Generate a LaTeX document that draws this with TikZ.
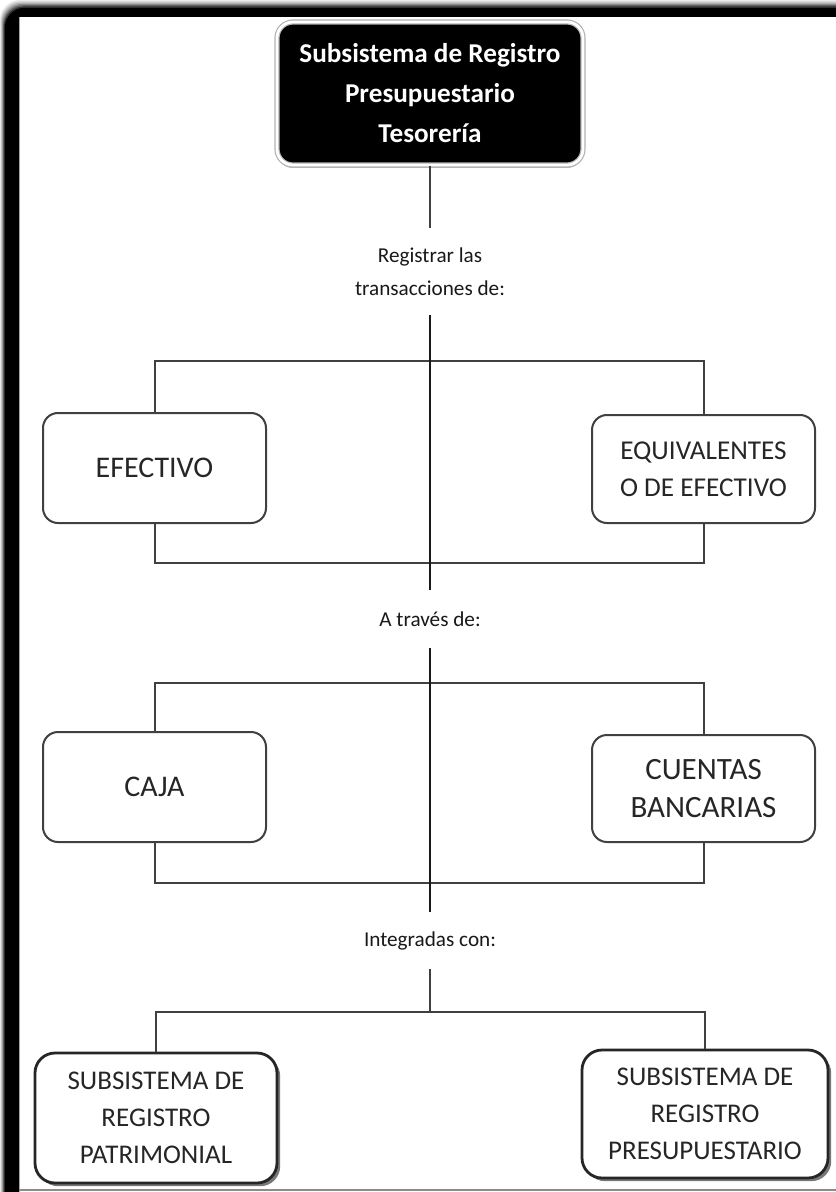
\documentclass[tikz,border=0pt]{standalone}
\usepackage{fontspec}
\setmainfont{Carlito}
\usetikzlibrary{shadows}

\tikzset{
  box/.style={draw=black!75, line width=1pt, rounded corners=7.5pt, fill=white,
    align=center, inner sep=0pt, text=black!85, minimum width=111.5pt,
    font=\fontsize{15}{18.5}\selectfont},
  subbox/.style={box, draw=black!85, line width=1.4pt, rounded corners=10pt,
    font=\fontsize{13.5}{18.5}\selectfont,
    drop shadow={shadow xshift=1.6pt, shadow yshift=-1.6pt, opacity=0.7, fill=black!75}},
  titlebox/.style={fill=black, text=white, draw=black!30, double=white, double distance=1.4pt,
    line width=0.6pt, rounded corners=8pt, align=center, inner sep=0pt,
    minimum width=153pt, minimum height=71.5pt, font=\bfseries\fontsize{13.6}{20}\selectfont,
    drop shadow={shadow xshift=0pt, shadow yshift=-1.5pt, opacity=0.45, fill=black!60}},
  lbl/.style={inner sep=0pt, align=center, text=black!90, font=\fontsize{10.6}{16.5}\selectfont},
  conn/.style={draw=black!75, line width=1pt},
}

\begin{document}
\begin{tikzpicture}[x=0.5pt, y=-0.5pt]
        \useasboundingbox (0,0) rectangle (835,1192);
        \clip (-20,-20) rectangle (860,1220);
        \fill[white] (-20,-20) rectangle (860,1220);

        % Frame.
        \foreach \k/\g in {0/8,1/18,2/30,3/45,4/62,5/80,6/100}
            \fill[black!\g] (\k*0.8,1250) -- (\k*0.8,\k*1.3+20)
                arc[start angle=180, end angle=270, radius=20] -- (950,\k*1.3)
                -- (950,17) -- (19,17) -- (19,1250) -- cycle;
        \draw[black!45, line width=1pt] (19,1190) -- (860,1190);

        % Top.
        \node[titlebox] (top) at (430,93.5) {Subsistema de Registro\\Presupuestario\\Tesorería};
        \node[lbl, minimum height=43.5pt] (reg) at (430,271.5) {Registrar las\\transacciones de:};
        \draw[conn] (top.south) -- (reg.north);

        % Efectivo.
        \coordinate (b1) at (430,361);
        \coordinate (b2) at (430,563);
        \node[box, minimum height=55pt] (efec) at (154.5,468) {EFECTIVO};
        \node[box, minimum height=54pt, font=\fontsize{13.6}{18.5}\selectfont] (equiv) at (703.5,469) {EQUIVALENTES\\O DE EFECTIVO};
        \draw[conn] (efec.north) -- (efec.north |- b1) -- (equiv.north |- b1) -- (equiv.north);
        \draw[conn] (efec.south) -- (efec.south |- b2) -- (equiv.south |- b2) -- (equiv.south);

        \node[lbl, minimum height=29pt] (trav) at (430,619) {A través de:};
        \draw[conn, draw=black!90] (reg.south) -- (trav.north);

        % Caja.
        \coordinate (b3) at (430,683);
        \coordinate (b4) at (430,883);
        \node[box, minimum height=55pt] (caja) at (154.5,787) {CAJA};
        \node[box, minimum height=53.5pt, font=\fontsize{15.5}{19}\selectfont] (ctas) at (703.5,788.5) {CUENTAS\\BANCARIAS};
        \draw[conn] (caja.north) -- (caja.north |- b3) -- (ctas.north |- b3) -- (ctas.north);
        \draw[conn] (caja.south) -- (caja.south |- b4) -- (ctas.south |- b4) -- (ctas.south);

        \node[lbl, minimum height=28.5pt] (integ) at (430,940.5) {Integradas con:};
        \draw[conn, draw=black!90] (trav.south) -- (integ.north);

        % Subsistemas.
        \coordinate (b5) at (430,1012);
        \node[subbox, minimum width=121pt, minimum height=65pt] (patr) at (156,1118) {SUBSISTEMA DE\\REGISTRO\\PATRIMONIAL};
        \node[subbox, minimum width=123pt, minimum height=64pt] (presu) at (705,1114) {SUBSISTEMA DE\\REGISTRO\\PRESUPUESTARIO};
        \draw[conn] (integ.south) -- (b5);
        \draw[conn] (patr.north) -- (patr.north |- b5) -- (presu.north |- b5) -- (presu.north);
\end{tikzpicture}
\end{document}
